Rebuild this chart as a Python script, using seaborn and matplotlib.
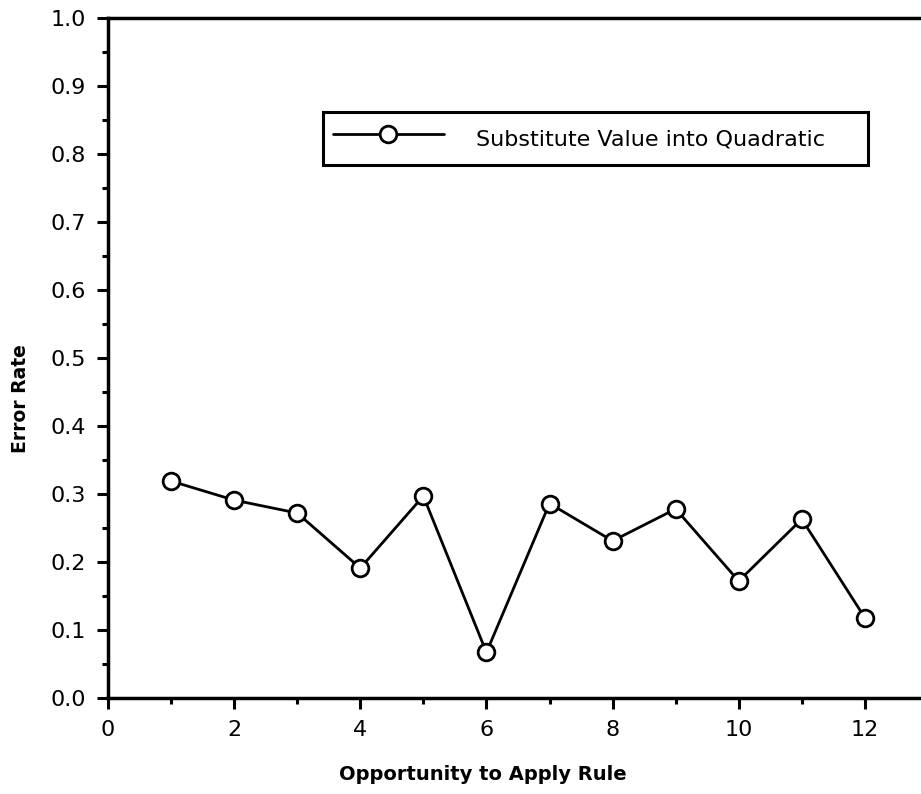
import numpy as np
import pandas as pd
import matplotlib
matplotlib.use("Agg")
import matplotlib.pyplot as plt
from matplotlib.ticker import MultipleLocator
import seaborn as sns

# data
opportunity = [1, 2, 3, 4, 5, 6, 7, 8, 9, 10, 11, 12]
error_rate = [0.319, 0.291, 0.272, 0.191, 0.297, 0.067,
              0.286, 0.231, 0.278, 0.172, 0.263, 0.118]
series_name = "Substitute Value into Quadratic"
x_ticks = [0, 2, 4, 6, 8, 10, 12]
y_ticks = [0.0, 0.1, 0.2, 0.3, 0.4, 0.5, 0.6, 0.7, 0.8, 0.9, 1.0]

df = pd.DataFrame({"Opportunity": opportunity, "Error": error_rate,
                   "Rule": series_name})

sns.set_theme(style="ticks")
plt.rcParams["font.family"] = ["DejaVu Sans"]
plt.rcParams["text.color"] = "black"
plt.rcParams["axes.labelcolor"] = "black"

W, H = 921, 794
fig = plt.figure(figsize=(W / 100, H / 100), dpi=100)
ax = fig.add_axes([108 / W, (H - 698) / H, (W - 108) / W, 680 / H])

sns.lineplot(data=df, x="Opportunity", y="Error", hue="Rule",
             palette=["black"], marker="o", markersize=12,
             markerfacecolor="white", markeredgecolor="black",
             markeredgewidth=2.0, linewidth=2.0, ax=ax, zorder=3)

ax.set_xlim(0, 12.89)
ax.set_ylim(0, 1.0)
ax.set_xticks(x_ticks)
ax.set_yticks(y_ticks)
ax.set_yticklabels([f"{v:.1f}" for v in y_ticks])
ax.xaxis.set_minor_locator(MultipleLocator(1))
ax.yaxis.set_minor_locator(MultipleLocator(0.05))
ax.tick_params(which="major", direction="out", length=8, width=2.2,
               labelsize=16, pad=8, colors="black")
ax.tick_params(which="minor", direction="out", length=4, width=2.2,
               colors="black")

for side in ["left", "bottom", "top"]:
    ax.spines[side].set_linewidth(2.5)
    ax.spines[side].set_color("black")
ax.spines["right"].set_visible(False)
ax.spines["top"].set_visible(True)

# labels sit a little left / low of the axes centre in the original
ax.set_xlabel("Opportunity to Apply Rule", fontsize=14, fontweight="bold")
ax.xaxis.set_label_coords(0.461, -0.098)
ax.set_ylabel("Error Rate", fontsize=13.5, fontweight="bold")
ax.yaxis.set_label_coords(-0.096, 0.441)

handles, labels = ax.get_legend_handles_labels()
leg = ax.legend(handles, labels, loc="center",
                bbox_to_anchor=(0.264, 0.779, 0.671, 0.087), mode="expand",
                fontsize=16, frameon=True, fancybox=False, framealpha=1,
                handlelength=5.0, handleheight=1.9, handletextpad=1.45,
                borderpad=0.45, borderaxespad=0)
leg.get_frame().set_edgecolor("black")
leg.get_frame().set_linewidth(2.2)
for t in leg.get_texts():
    t.set_color("black")

fig.savefig("out.png", dpi=100)
